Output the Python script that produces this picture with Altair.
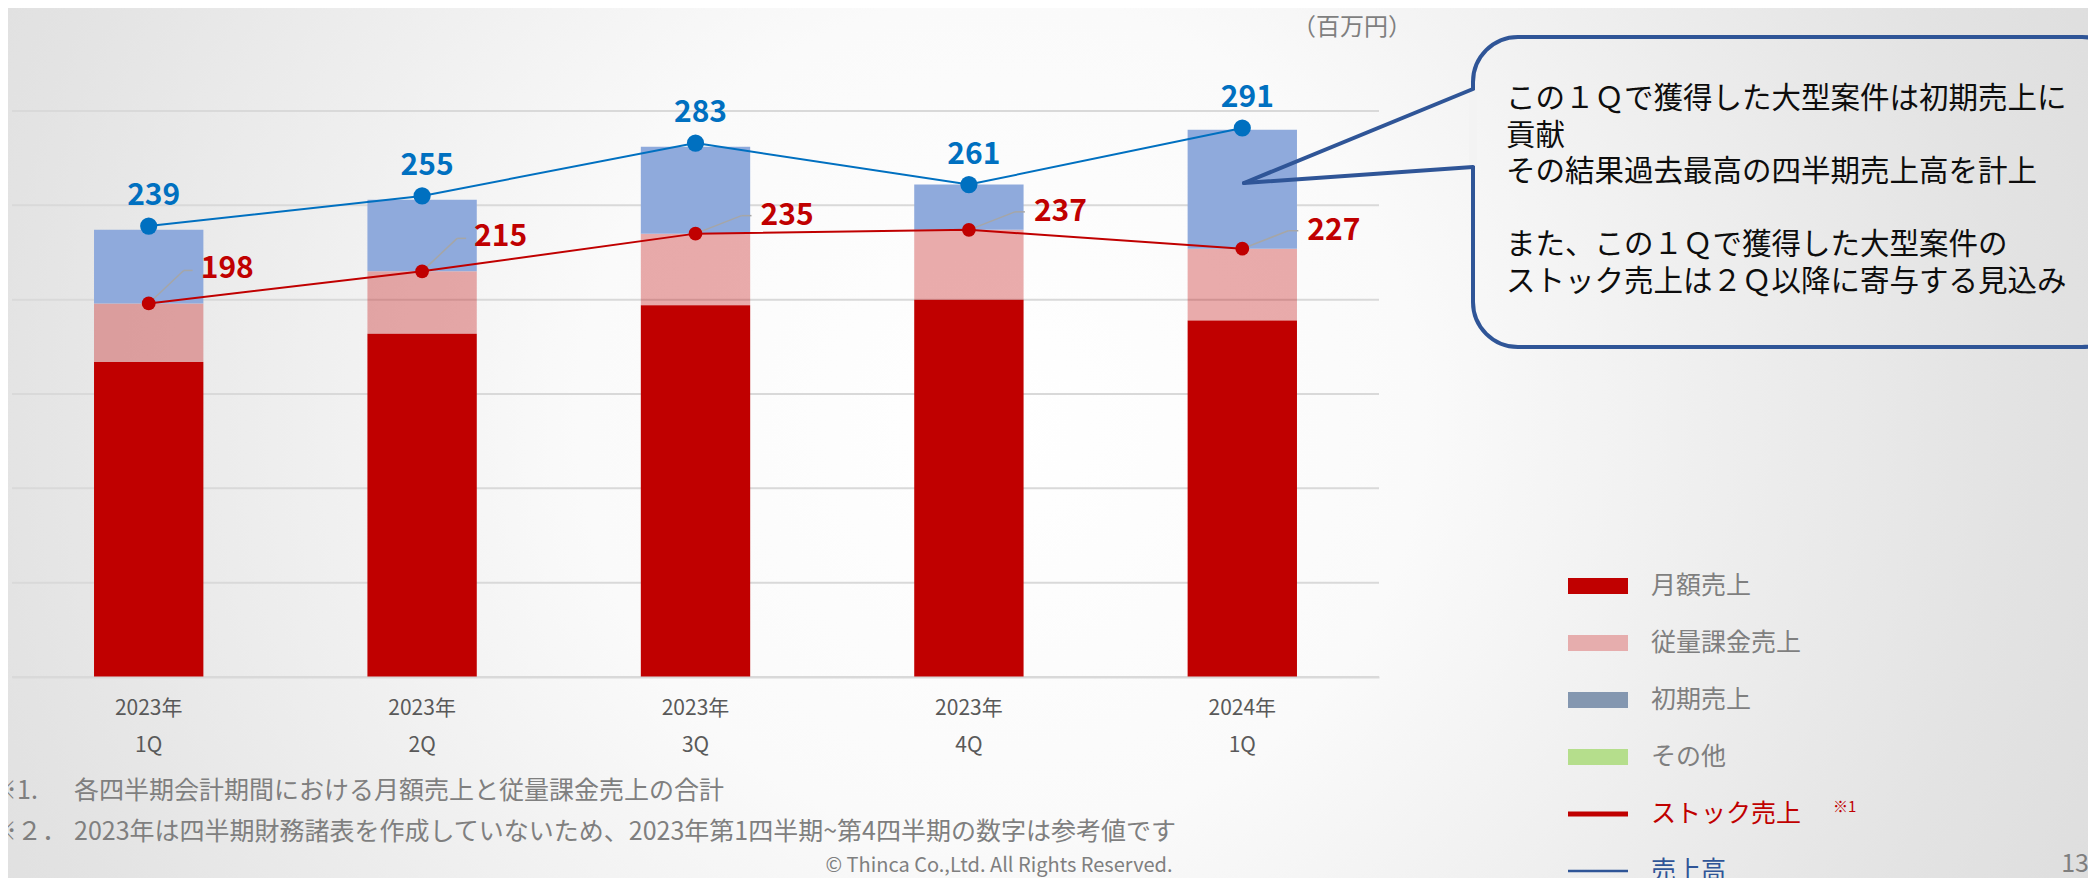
import altair as alt
import pandas as pd

FONT = "Noto Sans CJK JP"

# ---------------- data ----------------
quarters = ["2023年 1Q", "2023年 2Q", "2023年 3Q", "2023年 4Q", "2024年 1Q"]
monthly = [167, 182, 197, 200, 189]      # 月額売上
usage = [31, 33, 38, 37, 38]             # 従量課金売上
initial = [39, 38, 46, 24, 63]           # 初期売上
stock = [198, 215, 235, 237, 227]        # ストック売上
total = [239, 255, 283, 261, 291]        # 売上高
y_ticks = [0, 50, 100, 150, 200, 250, 300]

series_names = ["月額売上", "従量課金売上", "初期売上"]
series_colors = ["#C00000", "rgba(192,0,0,0.32)", "#8FAADC"]

legend_labels = ["月額売上", "従量課金売上", "初期売上", "その他", "ストック売上", "売上高"]
legend_colors = ["#C00000", "#E6ADAD", "#8497B0", "#B5DE8C", "#C00000", "#2F5597"]
legend_text_colors = ["#7F7F7F", "#7F7F7F", "#7F7F7F", "#7F7F7F", "#C00000", "#2F5597"]

callout_para1 = [
    "この１Ｑで獲得した大型案件は初期売上に",
    "貢献",
    "その結果過去最高の四半期売上高を計上",
]
callout_para2 = [
    "また、この１Ｑで獲得した大型案件の",
    "ストック売上は２Ｑ以降に寄与する見込み",
]
note1_prefix, note1_text = "※1.", "各四半期会計期間における月額売上と従量課金売上の合計"
note2_prefix, note2_text = "※２．", "2023年は四半期財務諸表を作成していないため、2023年第1四半期~第4四半期の数字は参考値です"
unit_text = "（百万円）"
copyright_text = "© Thinca Co.,Ltd. All Rights Reserved."
page_no = "13"

# ---------------- tables ----------------
rows = []
for i, q in enumerate(quarters):
    for k, (s, vals) in enumerate(zip(series_names, [monthly, usage, initial])):
        rows.append({"q": q, "series": s, "value": vals[i], "order": k})
bar_df = pd.DataFrame(rows)
line_df = pd.DataFrame({"q": quarters, "stock": stock, "total": total, "idx": list(range(len(quarters)))})
grid_df = pd.DataFrame({"v": y_ticks})

# ---------------- layout ----------------
W, H = 1367, 566
PAD = {"left": 4, "top": 103, "right": 709, "bottom": 201}


def one():
    return alt.Chart(alt.Data(values=[{"k": 0}]))


x_axis = alt.Axis(
    title=None, labelExpr="split(datum.label, ' ')", labelFont=FONT, labelFontSize=21,
    labelColor="#595959", labelLineHeight=37, labelPadding=20, ticks=False,
    domain=True, domainColor="#D9D9D9", domainWidth=2, grid=False, zindex=1, labelAngle=0,
)
x_scale = alt.Scale(domain=quarters, paddingInner=0.6, paddingOuter=0.3)
x_enc = alt.X("q:N", scale=x_scale, axis=x_axis)
y_scale = alt.Scale(domain=[0, 300], nice=False, zero=True)

layers = []

# background vignette
bg_grad = alt.RadialGradient(
    gradient="radial",
    stops=[
        alt.GradientStop(offset=0, color="#ffffff"),
        alt.GradientStop(offset=0.3, color="#fafafa"),
        alt.GradientStop(offset=0.72, color="#e3e3e3"),
        alt.GradientStop(offset=1, color="#d8d8d8"),
    ],
    x1=0.5, y1=0.5, x2=0.5, y2=0.5, r1=0, r2=0.5,
)
layers.append(one().mark_rect(fill=bg_grad).encode(
    x=alt.value(-412), x2=alt.value(2388), y=alt.value(-1091), y2=alt.value(1709)))

# gridlines
layers.append(alt.Chart(grid_df).mark_rule(color="#D9D9D9", strokeWidth=2).encode(
    y=alt.Y("v:Q", scale=y_scale, axis=None), x=alt.value(0), x2=alt.value(W)))

# stacked bars
layers.append(alt.Chart(bar_df).mark_bar().encode(
    x=x_enc,
    y=alt.Y("value:Q", scale=y_scale, stack="zero", axis=None),
    color=alt.Color("series:N", scale=alt.Scale(domain=series_names, range=series_colors), legend=None),
    order=alt.Order("order:Q"),
))

# lines
layers.append(alt.Chart(line_df).mark_line(color="#C00000", strokeWidth=2).encode(
    x=x_enc, y=alt.Y("stock:Q", scale=y_scale, axis=None)))
layers.append(alt.Chart(line_df).mark_line(color="#0070C0", strokeWidth=2).encode(
    x=x_enc, y=alt.Y("total:Q", scale=y_scale, axis=None)))

# leader lines for stock labels
for cond, (ex, ey, hx) in [("datum.idx < 2", (35, -33, 44)), ("datum.idx >= 2", (46, -18, 56))]:
    layers.append(alt.Chart(line_df).transform_filter(cond).mark_rule(
        color="#A6A6A6", strokeWidth=1.5, x2Offset=ex, y2Offset=ey).encode(
        x=x_enc, x2=alt.X2("q"), y=alt.Y("stock:Q", scale=y_scale, axis=None), y2=alt.Y2("stock")))
    layers.append(alt.Chart(line_df).transform_filter(cond).mark_rule(
        color="#A6A6A6", strokeWidth=1.5, xOffset=ex, x2Offset=hx, yOffset=ey, y2Offset=ey).encode(
        x=x_enc, x2=alt.X2("q"), y=alt.Y("stock:Q", scale=y_scale, axis=None), y2=alt.Y2("stock")))

# dots
layers.append(alt.Chart(line_df).mark_circle(size=190, color="#C00000", opacity=1).encode(
    x=x_enc, y=alt.Y("stock:Q", scale=y_scale, axis=None)))
layers.append(alt.Chart(line_df).mark_circle(size=295, color="#0070C0", opacity=1).encode(
    x=x_enc, y=alt.Y("total:Q", scale=y_scale, axis=None)))

# value labels
layers.append(alt.Chart(line_df).mark_text(
    align="center", baseline="middle", dx=5, dy=-30, font=FONT, fontSize=30,
    fontWeight="bold", color="#0070C0").encode(
    x=x_enc, y=alt.Y("total:Q", scale=y_scale, axis=None), text="total:Q"))
for cond, (ddx, ddy) in [("datum.idx < 2", (52, -34)), ("datum.idx >= 2", (65, -18))]:
    layers.append(alt.Chart(line_df).transform_filter(cond).mark_text(
        align="left", baseline="middle", dx=ddx, dy=ddy, font=FONT, fontSize=30,
        fontWeight="bold", color="#C00000").encode(
        x=x_enc, y=alt.Y("stock:Q", scale=y_scale, axis=None), text="stock:Q"))

# callout
CALL = "#2F5597"
layers.append(one().mark_rect(cornerRadius=45, fill="#ffffff", fillOpacity=0,
                              stroke=CALL, strokeWidth=4).encode(
    x=alt.value(1461), x2=alt.value(2115), y=alt.value(-74), y2=alt.value(236)))
layers.append(one().mark_rule(color="#f3f3f3", strokeWidth=8).encode(
    x=alt.value(1461), x2=alt.value(1461), y=alt.value(-21), y2=alt.value(55)))
layers.append(one().mark_rule(color=CALL, strokeWidth=4, strokeCap="round").encode(
    x=alt.value(1461), y=alt.value(-22), x2=alt.value(1232), y2=alt.value(72)))
layers.append(one().mark_rule(color=CALL, strokeWidth=4, strokeCap="round").encode(
    x=alt.value(1232), y=alt.value(72), x2=alt.value(1461), y2=alt.value(56)))
for para, y0 in [(callout_para1, -12), (callout_para2, 134)]:
    layers.append(one().mark_text(text=para, align="left", baseline="middle",
                                  lineHeight=36.7, font=FONT, fontSize=29.5, color="#0D0D0D").encode(
        x=alt.value(1494), y=alt.value(y0)))

# custom legend
for i, (lab, col, tcol) in enumerate(zip(legend_labels, legend_colors, legend_text_colors)):
    yy = 475 + 57 * i
    if i < 4:
        layers.append(one().mark_rect(color=col).encode(
            x=alt.value(1556), x2=alt.value(1616), y=alt.value(yy - 8), y2=alt.value(yy + 8)))
    else:
        layers.append(one().mark_rule(color=col, strokeWidth=5 if i == 4 else 2.5).encode(
            x=alt.value(1556), x2=alt.value(1616), y=alt.value(yy), y2=alt.value(yy)))
    layers.append(one().mark_text(text=lab, align="left", baseline="middle", font=FONT,
                                  fontSize=25, color=tcol).encode(x=alt.value(1639), y=alt.value(yy)))
layers.append(one().mark_text(text="※1", align="left", baseline="middle", font=FONT,
                              fontSize=15, color="#C00000").encode(x=alt.value(1821), y=alt.value(696)))

# other texts
GRAY = "#7F7F7F"
layers.append(one().mark_text(text=unit_text, align="right", baseline="middle", font=FONT,
                              fontSize=24, color=GRAY).encode(x=alt.value(1400), y=alt.value(-83)))
for pre, body, yy in [(note1_prefix, note1_text, 680), (note2_prefix, note2_text, 721)]:
    layers.append(one().mark_text(text=pre, align="left", baseline="middle", font=FONT,
                                  fontSize=25, color=GRAY).encode(x=alt.value(-20), y=alt.value(yy)))
    layers.append(one().mark_text(text=body, align="left", baseline="middle", font=FONT,
                                  fontSize=25, color=GRAY).encode(x=alt.value(62), y=alt.value(yy)))
layers.append(one().mark_text(text=copyright_text, align="center", baseline="middle", font=FONT,
                              fontSize=20, color=GRAY).encode(x=alt.value(987), y=alt.value(755)))
layers.append(one().mark_text(text=page_no, align="center", baseline="middle", font=FONT,
                              fontSize=25, color=GRAY).encode(x=alt.value(2063), y=alt.value(753)))

chart = alt.layer(*layers).properties(
    width=W, height=H, padding=PAD, autosize=alt.AutoSizeParams(type="none"),
    background="#f2f2f2",
).configure_view(stroke=None)

chart.save("out.html", embed_options={"renderer": "svg", "actions": False})
